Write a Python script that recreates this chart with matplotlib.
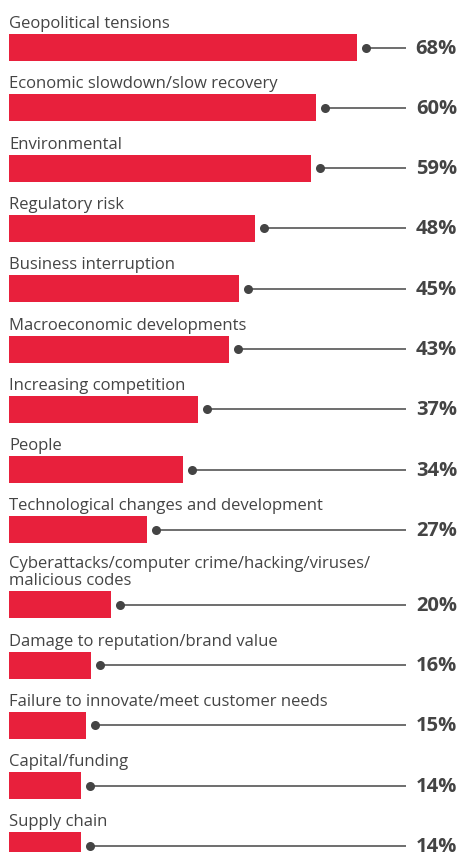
import matplotlib
matplotlib.use("Agg")
import matplotlib.pyplot as plt

# data, top to bottom
categories = [
    "Geopolitical tensions",
    "Economic slowdown/slow recovery",
    "Environmental",
    "Regulatory risk",
    "Business interruption",
    "Macroeconomic developments",
    "Increasing competition",
    "People",
    "Technological changes and development",
    "Cyberattacks/computer crime/hacking/viruses/\nmalicious codes",
    "Damage to reputation/brand value",
    "Failure to innovate/meet customer needs",
    "Capital/funding",
    "Supply chain",
]
values = [68, 60, 59, 48, 45, 43, 37, 34, 27, 20, 16, 15, 14, 14]

RED = "#e8203c"
GREY = "#444444"
LINE = "#555555"

plt.rcParams["font.family"] = ["Open Sans", "DejaVu Sans"]

W, H, DPI = 458, 852, 100
fig = plt.figure(figsize=(W / DPI, H / DPI), dpi=DPI)
ax = fig.add_axes([0, 0, 1, 1])

# x in percent, 5.12 px per point, zero at px 9
px = 5.12
ax.set_xlim(-9 / px, (W - 9) / px)
ax.set_ylim(H, 0)
ax.axis("off")

pitch, bar_h, top0 = 60.3, 27, 34
extra = 14.5  # second label line
offset = 0
for i, (cat, v) in enumerate(zip(categories, values)):
    top = top0 + pitch * i + offset
    nlines = cat.count("\n")
    if nlines:
        offset += extra * nlines
        top += extra * nlines
    yc = top + bar_h / 2
    ax.barh(yc, v, height=bar_h, left=0, color=RED)
    ax.text(0, top - 6, cat, fontsize=12, color=GREY, ha="left", va="baseline",
            linespacing=1.1)
    dot_x = v + 9 / px
    ax.plot([dot_x, 397 / px], [yc, yc], color=LINE, lw=1.2, solid_capstyle="butt")
    ax.plot(dot_x, yc, "o", color=GREY, ms=6.5, mec="none")
    ax.text(448 / px, yc + 1, f"{v}%", fontsize=14.5, fontweight="bold", color=GREY,
            ha="right", va="center")

fig.savefig("out.png", dpi=DPI)
